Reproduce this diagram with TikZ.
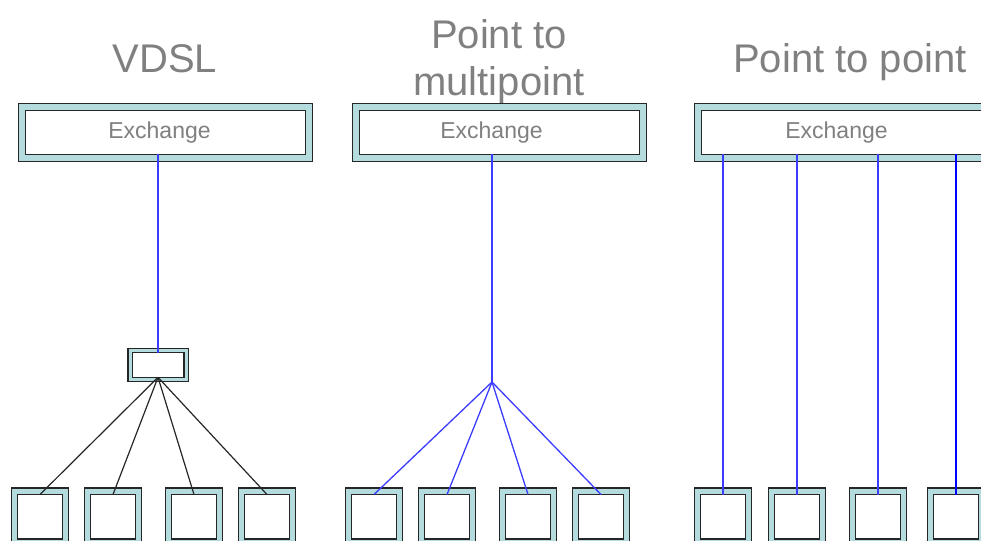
\documentclass[tikz,border=0pt]{standalone}
\usepackage{fontspec}
\setmainfont{Liberation Sans}
\definecolor{bandcyan}{RGB}{180,220,222}
\definecolor{labelgray}{RGB}{128,128,128}
\definecolor{wireblue}{RGB}{60,60,255}
\begin{document}
\begin{tikzpicture}[x=1pt,y=-1pt,
  framed/.style={draw=black!85, line width=1.3pt, double=bandcyan,
    double distance=#1, fill=white, inner sep=0pt, outer sep=0pt},
  exchange/.style={framed=6pt, minimum width=287pt, minimum height=51pt,
    text=labelgray, font=\fontsize{23}{27}\selectfont},
  cabinet/.style={framed=3pt, minimum width=56pt, minimum height=29pt},
  home/.style={framed=5pt, minimum width=51pt, minimum height=51pt},
  heading/.style={text=labelgray, font=\fontsize{40}{47}\selectfont, anchor=base, inner sep=0pt},
  wire/.style={draw=wireblue, line width=1.3pt},
  drop/.style={draw=black!85, line width=1.2pt}]
\useasboundingbox (0,0) rectangle (981,540);
\clip (0,0) rectangle (981,540);

% headings
\node[heading] (tA) at (165,73) {VDSL};
\node[heading] (tB1) at (499,49) {Point to};
\node[heading] (tB2) at (499,96) {multipoint};
\node[heading] (tC) at (850,73) {Point to point};

% exchanges (label sits a little left of centre)
\node[exchange] (exA) at (165.5,132.5) {\hspace*{-12pt}Exchange};
\node[exchange] (exB) at (499.5,132.5) {\hspace*{-16pt}Exchange};
\node[exchange] (exC) at (841.5,132.5) {\hspace*{-10pt}Exchange};

% street cabinet (VDSL)
\node[cabinet] (cab) at (158,365) {};
\coordinate (hubB) at (492,382);

% subscriber premises
\foreach \i/\x in {1/40,2/113,3/194,4/267}
  \node[home] (a\i) at (\x,516.5) {};
\foreach \i/\x in {1/374,2/447,3/528,4/601}
  \node[home] (b\i) at (\x,516.5) {};
\foreach \i/\x in {1/723,2/797,3/878,4/956}
  \node[home] (c\i) at (\x,516.5) {};

% VDSL: fibre to cabinet, copper drops
\draw[wire] ([yshift=4pt]exA.south -| cab.north) -- ([yshift=-2.2pt]cab.north);
\foreach \i in {1,...,4}
  \draw[drop] ([yshift=2.2pt]cab.south) -- ([yshift=-3.5pt]a\i.north);

% point to multipoint: shared feeder split at a node
\draw[wire] ([yshift=4pt]exB.south -| hubB) -- (hubB);
\foreach \i in {1,...,4}
  \draw[wire] (hubB) -- ([yshift=-3.5pt]b\i.north);

% point to point: dedicated lines
\foreach \i in {1,2,3}
  \draw[wire] ([yshift=4pt]exC.south -| c\i.north) -- ([yshift=-3.5pt]c\i.north);
\draw[wire, draw=blue, line width=2.4pt] ([yshift=4pt]exC.south -| c4.north) -- ([yshift=-3.5pt]c4.north);
\end{tikzpicture}
\end{document}
